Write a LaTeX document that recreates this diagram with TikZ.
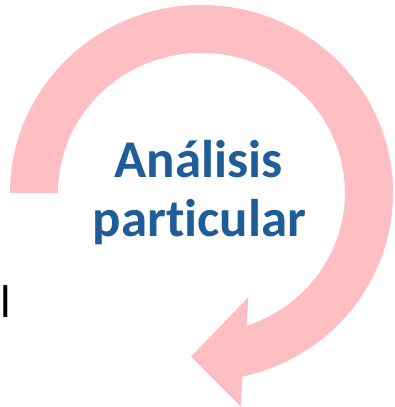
\documentclass[tikz,border=0pt]{standalone}
\usepackage{fontspec}
\setmainfont{Carlito}[Ligatures={NoCommon}]
\definecolor{arrowpink}{RGB}{255,190,193}
\definecolor{textblue}{RGB}{31,93,153}
\begin{document}
\begin{tikzpicture}[x=1pt,y=1pt,
  title/.style={font=\fontsize{53}{62}\selectfont\bfseries, text=textblue, inner sep=0pt, anchor=base},
  stray/.style={font=\fontsize{46}{55}\selectfont, text=black, inner sep=0pt, anchor=base west}]
\useasboundingbox (0,0) rectangle (395,407);
% circular arrow
\fill[arrowpink] (10,214)
  arc[start angle=180, end angle=-77.7, x radius=191.5, y radius=188]
  -- (241,0.3) -- (191,50.3) -- (248.3,109.7) -- (246.7,81.3)
  arc[start angle=-71.6, end angle=180, x radius=143.5, y radius=140]
  -- cycle;
\node[title] (l1) at (198.5,229) {Análisis};
\node[title] (l2) at (199.5,170) {particular};
\node[stray] (s) at (0,89) {l};
\end{tikzpicture}
\end{document}
